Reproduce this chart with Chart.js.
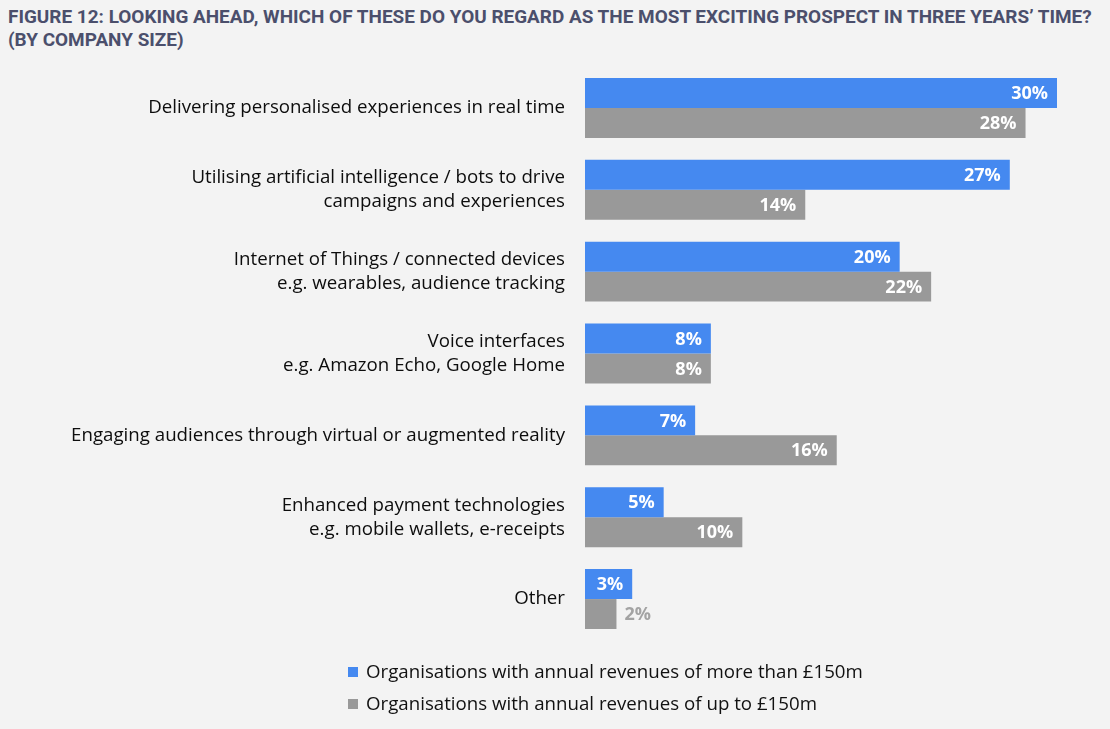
<!DOCTYPE html>
<html>
<head>
<meta charset="utf-8">
<script src="https://cdn.jsdelivr.net/npm/chart.js@4"></script>
<style>
    html, body { margin: 0; padding: 0; background: #f3f3f3; }
    body { width: 1110px; height: 729px; position: relative; overflow: hidden; }
    .title {
        position: absolute; left: 8px; top: 5px;
        font-family: "Liberation Sans Narrow", "Roboto", sans-serif;
        font-weight: bold; font-size: 19px; line-height: 23px;
        color: #4b4f6c; white-space: nowrap;
        transform-origin: 0 0;
    }
    #chartBox { position: absolute; left: 0; top: 0; width: 1110px; height: 729px; }
    .legend {
        position: absolute; left: 348px; top: 657px;
        font-family: "Open Sans", sans-serif; font-size: 18.7px; color: #111;
    }
    .legend div { height: 32px; line-height: 28px; white-space: nowrap; }
    .legend span.sw { display: inline-block; width: 10px; height: 10px; margin-right: 8px; vertical-align: 1px; }
</style>
</head>
<body>
<div class="title" id="title">
    <div id="t1">FIGURE 12: LOOKING AHEAD, WHICH OF THESE DO YOU REGARD AS THE MOST EXCITING PROSPECT IN THREE YEARS’ TIME?</div>
    <div>(BY COMPANY SIZE)</div>
</div>
<div id="chartBox"><canvas id="chart"></canvas></div>
<div class="legend">
    <div><span class="sw" style="background:#4589f0"></span>Organisations with annual revenues of more than £150m</div>
    <div><span class="sw" style="background:#999999"></span>Organisations with annual revenues of up to £150m</div>
</div>
<script>
// categories (multi-line labels)
const categories = [
    ['Delivering personalised experiences in real time'],
    ['Utilising artificial intelligence / bots to drive', 'campaigns and experiences'],
    ['Internet of Things / connected devices', 'e.g. wearables, audience tracking'],
    ['Voice interfaces', 'e.g. Amazon Echo, Google Home'],
    ['Engaging audiences through virtual or augmented reality'],
    ['Enhanced payment technologies', 'e.g. mobile wallets, e-receipts'],
    ['Other']
];
const seriesLabels = [
    'Organisations with annual revenues of more than £150m',
    'Organisations with annual revenues of up to £150m'
];
const largeOrgs = [30, 27, 20, 8, 7, 5, 3];
const smallOrgs = [28, 14, 22, 8, 16, 10, 2];

// fit title line to the reference width
const t1 = document.getElementById('t1');
const titleScale = 1084 / t1.scrollWidth;
document.getElementById('title').style.transform = `scaleX(${titleScale})`;

const valueLabels = {
    id: 'valueLabels',
    afterDatasetsDraw(chart) {
        const ctx = chart.ctx;
        ctx.save();
        ctx.font = 'bold 18px "Open Sans", sans-serif';
        ctx.textBaseline = 'middle';
        chart.data.datasets.forEach((ds, di) => {
            chart.getDatasetMeta(di).data.forEach((bar, i) => {
                const text = ds.data[i] + '%';
                const w = ctx.measureText(text).width;
                const barW = bar.x - bar.base;
                if (barW > w + 16) {
                    ctx.fillStyle = '#ffffff';
                    ctx.textAlign = 'right';
                    ctx.fillText(text, bar.x - 9, bar.y + 1);
                } else {
                    ctx.fillStyle = '#a3a3a3';
                    ctx.textAlign = 'left';
                    ctx.fillText(text, bar.x + 8, bar.y + 1);
                }
            });
        });
        ctx.restore();
    }
};

new Chart(document.getElementById('chart'), {
    type: 'bar',
    data: {
        labels: categories,
        datasets: [
            { label: seriesLabels[0], data: largeOrgs, backgroundColor: '#4589f0' },
            { label: seriesLabels[1], data: smallOrgs, backgroundColor: '#999999' }
        ]
    },
    options: {
        indexAxis: 'y',
        responsive: true,
        maintainAspectRatio: false,
        animation: false,
        categoryPercentage: 60 / 82,
        barPercentage: 1,
        layout: { padding: { top: 67, bottom: 89, right: 53, left: 0 } },
        plugins: { legend: { display: false }, tooltip: { enabled: false } },
        scales: {
            x: { display: false, min: 0, max: 30 },
            y: {
                grid: { display: false, drawTicks: false },
                border: { display: false },
                ticks: {
                    color: '#0d0d0d',
                    padding: 20,
                    font: { family: '"Open Sans", sans-serif', size: 18.7, lineHeight: 1.28 }
                },
                afterFit(scale) { scale.width = 585; }
            }
        }
    },
    plugins: [valueLabels]
});
</script>
</body>
</html>
